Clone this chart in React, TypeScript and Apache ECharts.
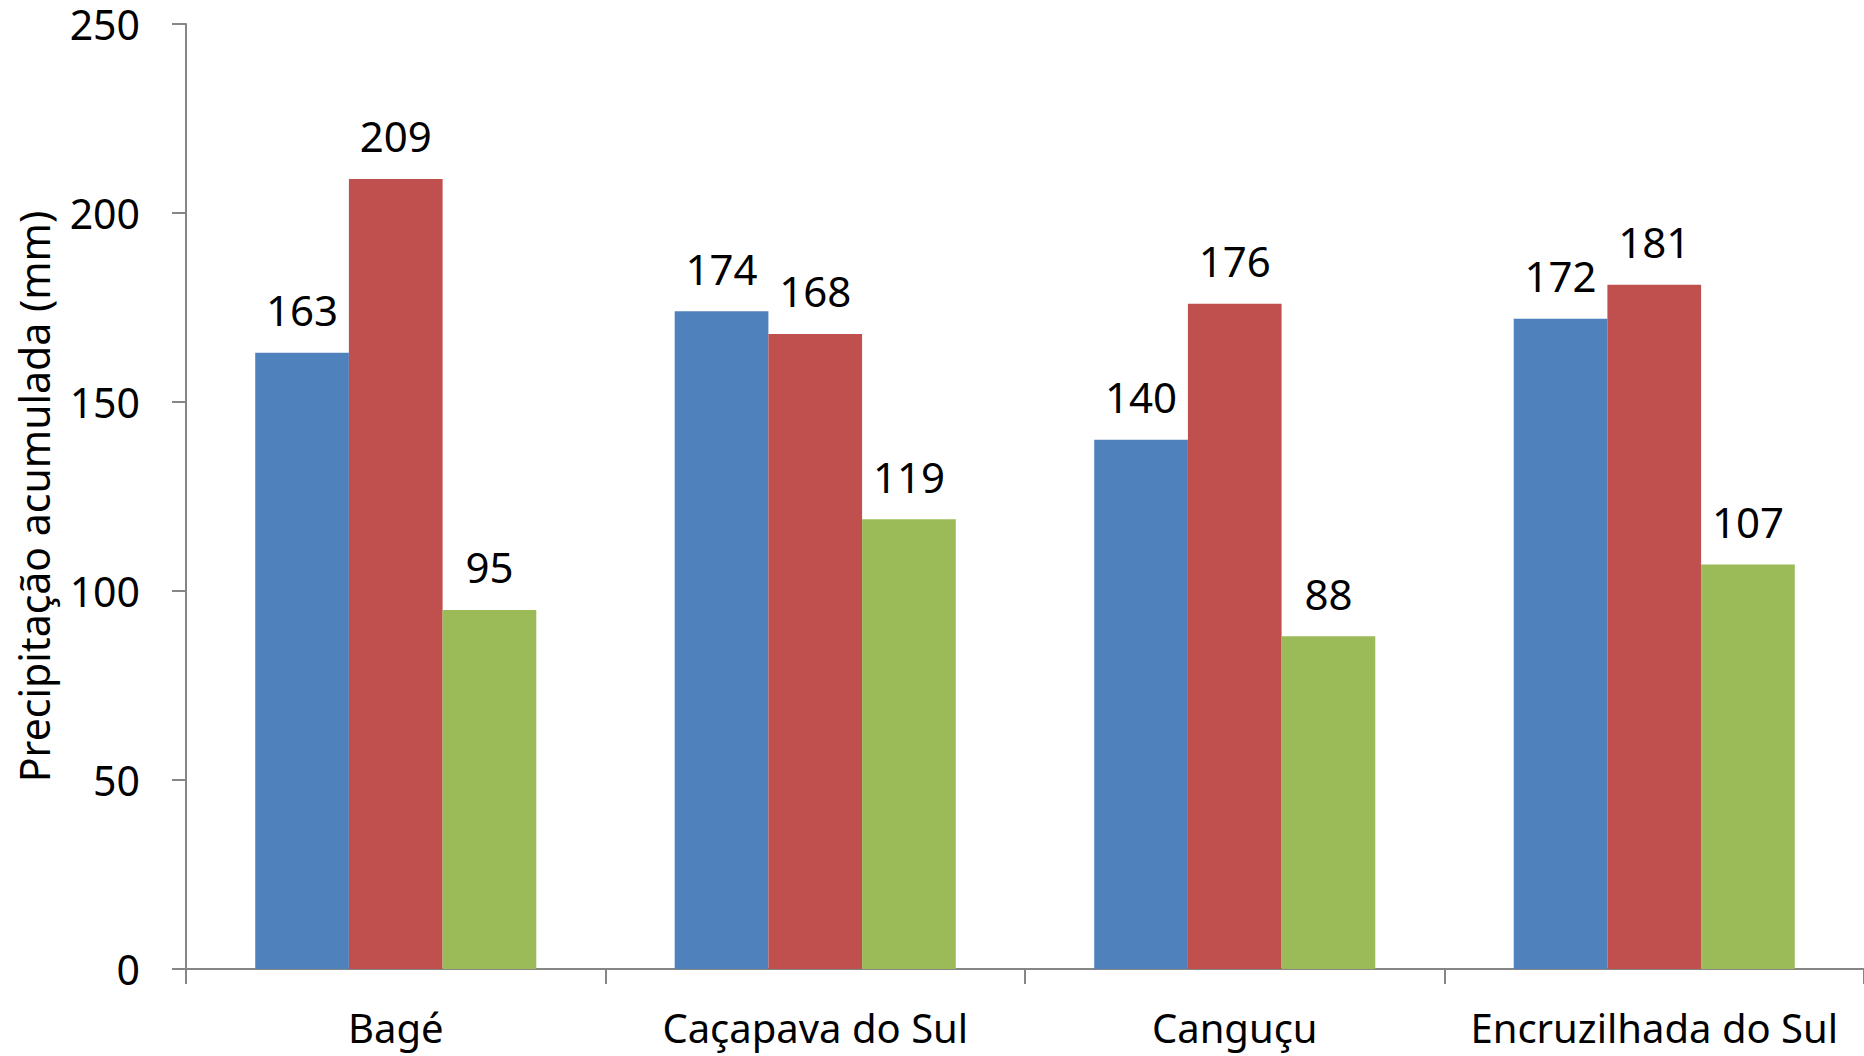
import React, { useEffect, useRef } from "react";
import * as echarts from "echarts";

const categories = ["Bagé", "Caçapava do Sul", "Canguçu", "Encruzilhada do Sul"];
const seriesA = [163, 174, 140, 172];
const seriesB = [209, 168, 176, 181];
const seriesC = [95, 119, 88, 107];
const colors = ["#4F81BD", "#C0504D", "#9BBB59"];
const yTitle = "Precipitação acumulada (mm)";

export default function App() {
  const ref = useRef<HTMLDivElement>(null);
  useEffect(() => {
    document.body.style.margin = "0";
    const chart = echarts.init(ref.current!, null, { renderer: "svg" });
    const font = "Noto Sans";
    const mk = (data: number[], i: number) => ({
      type: "bar",
      data,
      barGap: "0%",
      barCategoryGap: "33%",
      itemStyle: { color: colors[i] },
      label: {
        show: true,
        position: "top",
        distance: 22,
        color: "#000",
        fontFamily: font,
        fontSize: 42,
        lineHeight: 42,
      },
    });
    chart.setOption({
      animation: false,
      textStyle: { fontFamily: font },
      grid: { left: 186, right: 0, top: 24, bottom: 87, containLabel: false },
      xAxis: {
        type: "category",
        data: categories,
        axisLine: { lineStyle: { color: "#868686", width: 2 } },
        axisTick: { show: true, length: 15, lineStyle: { color: "#868686", width: 2 } },
        axisLabel: {
          interval: 0,
          color: "#000",
          fontFamily: font,
          fontSize: 40,
          lineHeight: 30,
          margin: 43,
        },
      },
      yAxis: {
        type: "value",
        min: 0,
        max: 250,
        interval: 50,
        name: yTitle,
        nameLocation: "middle",
        nameGap: 132,
        nameTextStyle: { color: "#000", fontFamily: font, fontSize: 41, lineHeight: 41 },
        axisLine: { show: true, lineStyle: { color: "#868686", width: 2 } },
        axisTick: { show: true, length: 14, lineStyle: { color: "#868686", width: 2 } },
        splitLine: { show: false },
        axisLabel: {
          color: "#000",
          fontFamily: font,
          fontSize: 41,
          lineHeight: 30,
          margin: 46,
        },
      },
      series: [mk(seriesA, 0), mk(seriesB, 1), mk(seriesC, 2)],
    });
    return () => chart.dispose();
  }, []);
  return (
    <div
      ref={ref}
      style={{ position: "absolute", left: 0, top: 0, width: 1864, height: 1056 }}
    />
  );
}
